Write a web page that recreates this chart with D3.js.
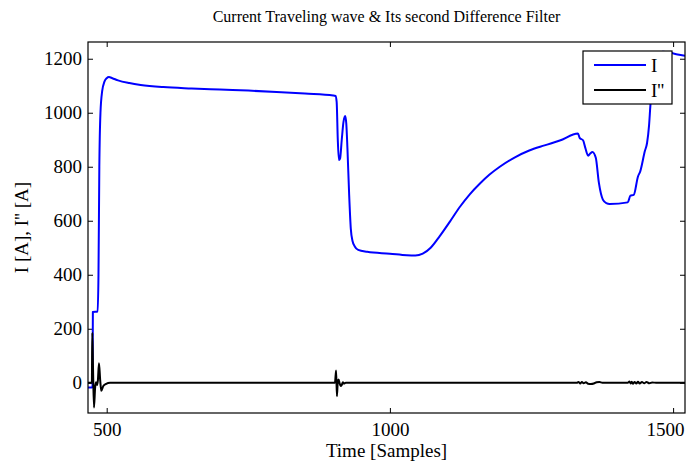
<!DOCTYPE html>
<html>
<head>
<meta charset="utf-8">
<script src="https://cdn.jsdelivr.net/npm/d3@7"></script>
<style>
  html, body { margin: 0; padding: 0; background: #fff; }
  svg { display: block; font-family: "Liberation Serif", "Times New Roman", serif; }
</style>
</head>
<body>
<svg id="chart" width="695" height="466"></svg>
<script>
// Current traveling wave I (samples vs amps)
const sampleI = [467, 474, 475, 475.6, 484, 485.5, 487, 489, 492, 496, 500, 504, 510, 520, 540, 560, 600, 650, 700, 750, 800, 850, 900, 904,
  906, 908, 910, 912, 915, 918, 921, 923, 925, 928, 931, 934, 938, 944, 960, 1000, 1030, 1045, 1058, 1072, 1088, 1106, 1123, 1141, 1159,
  1176, 1194, 1220, 1246, 1273, 1300, 1332, 1335, 1341, 1345, 1350, 1354, 1357.6, 1363.5, 1369, 1376, 1382, 1388, 1420, 1424.6, 1430.5,
  1438, 1442, 1450, 1454, 1457.5, 1460, 1464, 1468, 1474, 1482, 1495, 1508, 1521];
const valueI = [-18, -18, -15, 262, 264, 400, 800, 1000, 1080, 1115, 1128, 1132, 1128, 1120, 1110, 1103, 1095, 1090, 1086, 1082, 1077, 1071, 1064, 1062,
  1040, 900, 825, 830, 900, 965, 988, 960, 870, 700, 570, 525, 505, 492, 485, 478, 472, 471, 478, 500, 543, 597, 650, 698, 738,
  771, 800, 834, 860, 879, 897, 923, 907, 898, 870, 841, 850, 855, 833, 740, 678, 665, 662, 668, 693, 696,
  764, 783, 857, 888, 952, 1030, 1120, 1185, 1220, 1226, 1222, 1216, 1211];

// Second difference filter output I''
const sampleD = [467, 473.8, 474.6, 476, 477.6, 479.5, 481, 483, 484.5, 486.4, 488.5, 490.5, 494, 499, 506,
  903, 905, 906.5, 908, 909.5, 911, 913, 915, 917, 919, 922,
  1330, 1333, 1336, 1339, 1342, 1346, 1350, 1355, 1360, 1365, 1370, 1375,
  1420, 1423, 1425, 1427, 1429, 1432, 1435, 1438, 1441, 1445, 1449, 1453, 1458, 1463, 1470, 1521];
const valueD = [0, 0, 185, 40, -92, -20, 2, -8, 10, 72, 10, -30, -12, -4, 0,
  0, 45, -50, 5, 12, 0, -12, -8, 2, -3, 0,
  0, 3, -3, 3, -2, 2, -4, -5, -3, 2, 3, 0,
  0, 5, -3, 4, -4, 3, -3, 4, -3, 3, -2, 3, -2, 1, 0, 0];

const xTicks = [500, 1000, 1500];
const yTicks = [0, 200, 400, 600, 800, 1000, 1200];
const seriesNames = ["I", "I''"];
const seriesColors = ["#0000ff", "#000000"];

const svg = d3.select("#chart");
const W = 695, H = 466;
const m = { left: 88, top: 42, right: 10, bottom: 53 };
const pw = W - m.left - m.right, ph = H - m.top - m.bottom;

svg.append("rect").attr("width", W).attr("height", H).attr("fill", "#fff");

const x = d3.scaleLinear().domain([467, 1521]).range([m.left, m.left + pw]);
const y = d3.scaleLinear().domain([-112, 1262]).range([m.top + ph, m.top]);

const fontSize = 19;
const fmt = d3.format("d");

// axes with inward ticks on all four sides
function styleAxis(g) {
  g.select(".domain").remove();
  g.selectAll(".tick line").attr("stroke", "#000").attr("stroke-width", 1);
  g.selectAll(".tick text").attr("fill", "#000").style("font-size", fontSize + "px")
    .style("font-family", "Liberation Serif");
}
const xAxisG = svg.append("g").attr("transform", `translate(0,${m.top + ph})`)
  .call(d3.axisBottom(x).tickValues(xTicks).tickFormat(fmt).tickSizeInner(-5).tickSizeOuter(0).tickPadding(10))
  .call(styleAxis);
// keep the last tick label inside the plot's right edge
xAxisG.selectAll(".tick text").filter(d => x(d) + 19 > m.left + pw)
  .attr("text-anchor", "end").attr("x", m.left + pw - 1 - x(xTicks[xTicks.length - 1]));
svg.append("g").attr("transform", `translate(0,${m.top})`)
  .call(d3.axisTop(x).tickValues(xTicks).tickSizeInner(-5).tickSizeOuter(0).tickFormat(""))
  .call(styleAxis);
svg.append("g").attr("transform", `translate(${m.left},0)`)
  .call(d3.axisLeft(y).tickValues(yTicks).tickFormat(fmt).tickSizeInner(-5).tickSizeOuter(0).tickPadding(6))
  .call(styleAxis);
svg.append("g").attr("transform", `translate(${m.left + pw},0)`)
  .call(d3.axisRight(y).tickValues(yTicks).tickSizeInner(-5).tickSizeOuter(0).tickFormat(""))
  .call(styleAxis);

// clip the traces to the plot box
svg.append("clipPath").attr("id", "plotclip").append("rect")
  .attr("x", m.left).attr("y", m.top).attr("width", pw).attr("height", ph);

const lineI = d3.line().x((d, i) => x(sampleI[i])).y(d => y(d)).curve(d3.curveMonotoneX);
const lineD = d3.line().x((d, i) => x(sampleD[i])).y(d => y(d)).curve(d3.curveMonotoneX);

const plot = svg.append("g").attr("clip-path", "url(#plotclip)");
plot.append("path").attr("d", lineI(valueI)).attr("fill", "none")
  .attr("stroke", seriesColors[0]).attr("stroke-width", 2).attr("stroke-linejoin", "round");
plot.append("path").attr("d", lineD(valueD)).attr("fill", "none")
  .attr("stroke", seriesColors[1]).attr("stroke-width", 2).attr("stroke-linejoin", "round");

// frame
svg.append("rect").attr("x", m.left).attr("y", m.top).attr("width", pw).attr("height", ph)
  .attr("fill", "none").attr("stroke", "#000").attr("stroke-width", 1.2);

// legend
const lg = svg.append("g").attr("transform", "translate(583,51)");
lg.append("rect").attr("width", 89).attr("height", 53).attr("fill", "#fff")
  .attr("stroke", "#000").attr("stroke-width", 1.2);
seriesNames.forEach((name, i) => {
  const ly = 14 + i * 25;
  lg.append("line").attr("x1", 11).attr("x2", 63).attr("y1", ly).attr("y2", ly)
    .attr("stroke", seriesColors[i]).attr("stroke-width", 2);
  lg.append("text").attr("x", 68).attr("y", ly + 6.5).text(name)
    .style("font-size", fontSize + "px").attr("fill", "#000");
});

// titles
svg.append("text").attr("x", m.left + pw / 2).attr("y", 22).attr("text-anchor", "middle")
  .style("font-size", "16px").text("Current Traveling wave & Its second Difference Filter");
svg.append("text").attr("x", m.left + pw / 2).attr("y", 457).attr("text-anchor", "middle")
  .style("font-size", fontSize + "px").text("Time [Samples]");
svg.append("text").attr("transform", `translate(28,${m.top + ph / 2}) rotate(-90)`)
  .attr("text-anchor", "middle").style("font-size", fontSize + "px").text("I [A], I'' [A]");
</script>
</body>
</html>
